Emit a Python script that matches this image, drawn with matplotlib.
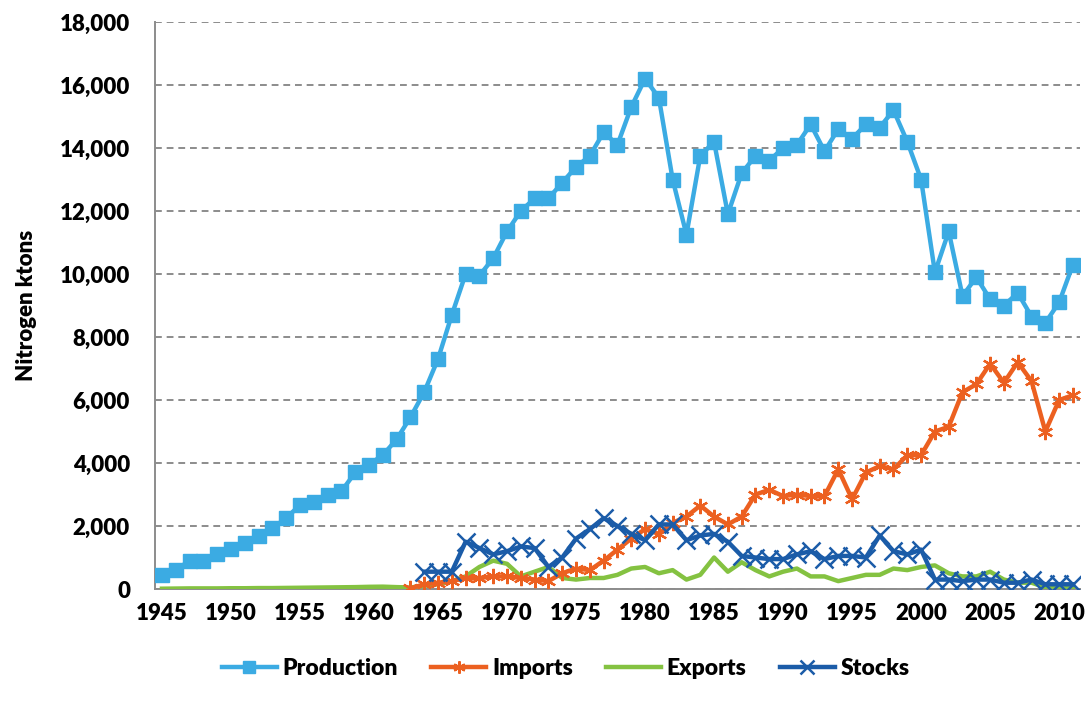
import matplotlib
matplotlib.use("Agg")
import matplotlib.pyplot as plt
from matplotlib.ticker import FuncFormatter, MultipleLocator

years = list(range(1945, 2012))

production = [450, 600, 900, 900, 1100, 1270, 1460, 1680, 1930, 2250,
              2670, 2760, 3000, 3100, 3700, 3950, 4250, 4750, 5450, 6250,
              7300, 8700, 10000, 9950, 10500, 11350, 12000, 12400, 12400, 12900,
              13400, 13750, 14500, 14100, 15300, 16200, 15600, 13000, 11250, 13750,
              14200, 11900, 13200, 13750, 13600, 14000, 14100, 14750, 13900, 14600,
              14300, 14750, 14650, 15200, 14200, 13000, 10050, 11350, 9300, 9900,
              9200, 9000, 9400, 8650, 8450, 9100, 10300]

imp_years = list(range(1963, 2012))
imports = [20, 150, 200, 250, 350, 350, 400, 400, 350, 300,
           250, 500, 650, 600, 900, 1250, 1600, 1900, 1750, 2100,
           2300, 2650, 2300, 2050, 2300, 3000, 3150, 2950, 3000, 2950,
           2950, 3800, 2850, 3700, 3900, 3800, 4250, 4250, 5000, 5150,
           6250, 6500, 7150, 6550, 7200, 6600, 5000, 6000, 6150]

exports = [10, 15, 20, 20, 20, 25, 25, 30, 30, 35,
           40, 45, 50, 55, 60, 70, 75, 60, 50, 100,
           150, 250, 400, 700, 900, 800, 400, 550, 700, 350,
           300, 350, 350, 450, 650, 700, 500, 600, 300, 450,
           1000, 550, 850, 600, 400, 550, 650, 400, 400, 250,
           350, 450, 450, 650, 600, 700, 750, 500, 400, 400,
           550, 300, 200, 200, 50, 20, 30]

stk_years = list(range(1964, 2012))
stocks = [550, 550, 550, 1500, 1300, 1100, 1200, 1350, 1300, 700,
          1000, 1600, 1900, 2250, 2000, 1750, 1550, 2050, 2050, 1550,
          1700, 1750, 1500, 1050, 1000, 950, 950, 1100, 1200, 950,
          1050, 1050, 1000, 1700, 1200, 1100, 1250, 300, 300, 250,
          300, 300, 200, 200, 300, 150, 150, 150]

plt.rcParams['font.family'] = ['Lato', 'DejaVu Sans']

fig = plt.figure(figsize=(10.88, 7.10), dpi=100)
ax = fig.add_axes([0.1425, 0.1704, 0.850, 0.7986])

c_prod = '#3BABE3'
c_imp = '#EC6020'
c_exp = '#84C241'
c_stk = '#1B5CA8'

ax.plot(years, exports, color=c_exp, lw=3.2, label='Exports', zorder=3)
ax.plot(imp_years, imports, color=c_imp, lw=3.2, marker=(6, 2, 0), ms=11,
        mew=1.6, label='Imports', zorder=4)
ax.plot(stk_years, stocks, color=c_stk, lw=3.2, marker='x', ms=13,
        mew=1.8, label='Stocks', zorder=5)
ax.plot(years, production, color=c_prod, lw=3.2, marker='s', ms=10.5,
        label='Production', zorder=6)

ax.set_xlim(1944.5, 2011.5)
ax.set_ylim(0, 18000)
ax.yaxis.set_major_locator(MultipleLocator(2000))
ax.yaxis.set_major_formatter(FuncFormatter(lambda v, p: f'{int(v):,}'))
ax.set_xticks(list(range(1945, 2011, 5)))
ax.grid(axis='y', color='#8C8C8C', linestyle=(0, (3.5, 2.5)), lw=1.4)
ax.set_axisbelow(True)

for s in ['top', 'right']:
    ax.spines[s].set_visible(False)
ax.spines['left'].set_color('#8C8C8C')
ax.spines['bottom'].set_color('#8C8C8C')
ax.spines['left'].set_linewidth(1.4)
ax.spines['bottom'].set_linewidth(1.4)
ax.tick_params(axis='both', length=0, labelsize=16)
ax.tick_params(axis='y', pad=18)
ax.tick_params(axis='x', pad=10)
for lab in ax.get_xticklabels() + ax.get_yticklabels():
    lab.set_fontweight('heavy')

ax.set_ylabel('Nitrogen ktons', fontsize=16, fontweight='heavy', labelpad=16)

handles, labels = ax.get_legend_handles_labels()
order = [3, 1, 0, 2]
leg = fig.legend([handles[i] for i in order], [labels[i] for i in order],
                 loc='center', bbox_to_anchor=(0.52, 0.058), ncol=4, frameon=False,
                 fontsize=16.5, handlelength=2.4, columnspacing=1.45, handletextpad=0.25,
                 markerscale=0.8)
for t in leg.get_texts():
    t.set_fontweight('heavy')

fig.savefig('out.png', dpi=100)
